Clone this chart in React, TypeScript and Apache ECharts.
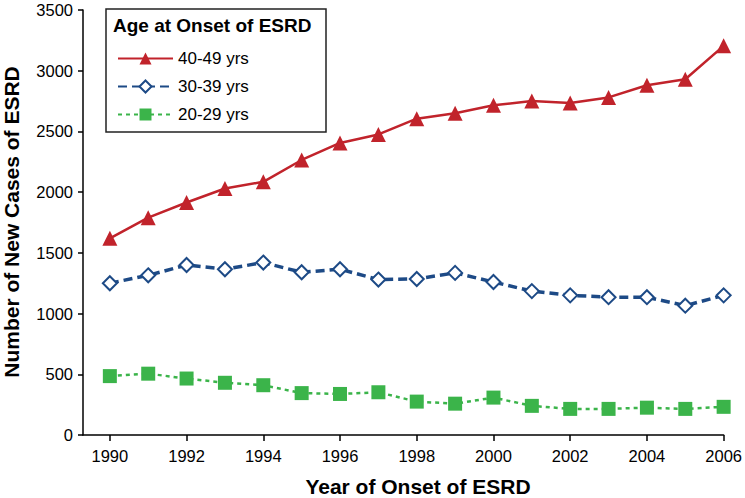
import React, { useEffect, useRef } from "react";
import * as echarts from "echarts";

const years = [1990, 1991, 1992, 1993, 1994, 1995, 1996, 1997, 1998, 1999, 2000, 2001, 2002, 2003, 2004, 2005, 2006];
const age4049 = [1620, 1790, 1915, 2030, 2085, 2265, 2405, 2475, 2605, 2650, 2715, 2750, 2735, 2780, 2880, 2930, 3205];
const age3039 = [1250, 1315, 1400, 1365, 1420, 1340, 1365, 1280, 1285, 1335, 1260, 1185, 1150, 1135, 1135, 1065, 1150];
const age2029 = [485, 505, 465, 430, 410, 345, 338, 352, 275, 258, 308, 240, 215, 215, 225, 215, 232];
const xLabels = [1990, 1992, 1994, 1996, 1998, 2000, 2002, 2004, 2006];
const yTicks = [0, 500, 1000, 1500, 2000, 2500, 3000, 3500];

const RED = "#C1232B";
const BLUE = "#1D4A86";
const GREEN = "#3BB44A";

export default function App() {
  const ref = useRef<HTMLDivElement>(null);
  useEffect(() => {
    if (!ref.current) return;
    const chart = echarts.init(ref.current, null, { renderer: "svg" });
    const font = "Liberation Sans, Arial, sans-serif";
    const pair = (arr: number[]) => years.map((y, i) => [y, arr[i]]);
    chart.setOption({
      animation: false,
      textStyle: { fontFamily: font },
      grid: { left: 83, right: 20, top: 10, bottom: 63, containLabel: false },
      xAxis: {
        type: "value",
        min: 1989.3,
        max: 2006,
        axisLine: { lineStyle: { color: "#000", width: 1.5 } },
        axisTick: { show: true, customValues: xLabels, length: 6, lineStyle: { color: "#000", width: 1.5 } },
        axisLabel: { customValues: xLabels, fontSize: 16.5, color: "#000", margin: 12, formatter: (v: number) => String(v) },
        splitLine: { show: false },
      },
      yAxis: {
        type: "value",
        min: 0,
        max: 3500,
        interval: 500,
        axisLine: { show: true, lineStyle: { color: "#000", width: 1.5 } },
        axisTick: { show: true, customValues: yTicks, length: 5, lineStyle: { color: "#000", width: 1.5 } },
        axisLabel: { customValues: yTicks, fontSize: 16.5, color: "#000", margin: 10, formatter: (v: number) => String(v) },
        splitLine: { show: false },
      },
      legend: {
        orient: "vertical",
        left: 112,
        top: 45,
        itemWidth: 55,
        itemHeight: 15,
        itemGap: 11,
        textStyle: { fontSize: 17, color: "#000", fontFamily: font },
        data: ["40-49 yrs", "30-39 yrs", "20-29 yrs"],
      },
      graphic: [
        {
          type: "rect",
          shape: { x: 106, y: 9, width: 220, height: 123 },
          style: { fill: "#fff", stroke: "#222", lineWidth: 1.5 },
          z: -1,
          silent: true,
        },
        {
          type: "text",
          x: 113,
          y: 25,
          style: { text: "Age at Onset of ESRD", fontSize: 19, fontWeight: "bold", fill: "#000", fontFamily: font, verticalAlign: "middle" },
        },
        {
          type: "text",
          x: 418,
          y: 486,
          style: { text: "Year of Onset of ESRD", fontSize: 21, fontWeight: "bold", fill: "#000", fontFamily: font, align: "center", verticalAlign: "middle" },
        },
        {
          type: "text",
          x: 11,
          y: 222,
          rotation: Math.PI / 2,
          style: { text: "Number of New Cases of ESRD", fontSize: 21, fontWeight: "bold", fill: "#000", fontFamily: font, align: "center", verticalAlign: "middle" },
        },
      ],
      series: [
        {
          name: "40-49 yrs",
          type: "line",
          data: pair(age4049),
          symbol: "triangle",
          symbolSize: 15,
          itemStyle: { color: RED },
          lineStyle: { color: RED, width: 2.5 },
        },
        {
          name: "30-39 yrs",
          type: "line",
          data: pair(age3039),
          symbol: "diamond",
          symbolSize: 14,
          itemStyle: { color: "#fff", borderColor: BLUE, borderWidth: 2 },
          lineStyle: { color: BLUE, width: 3.5, type: [9, 5] },
        },
        {
          name: "20-29 yrs",
          type: "line",
          data: pair(age2029),
          symbol: "rect",
          symbolSize: 14,
          itemStyle: { color: GREEN },
          lineStyle: { color: GREEN, width: 2.5, type: [4, 4] },
        },
      ],
    });
    return () => chart.dispose();
  }, []);
  return <div ref={ref} style={{ width: 745, height: 498, position: "absolute", left: 0, top: 0 }} />;
}
